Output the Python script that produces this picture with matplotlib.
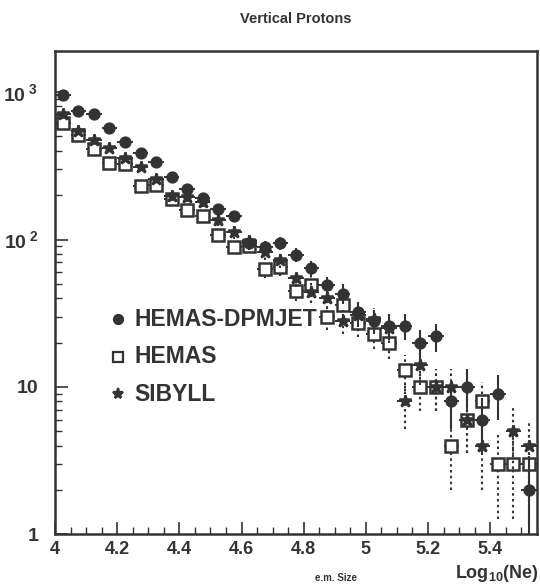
import numpy as np
import matplotlib
matplotlib.use("Agg")
import matplotlib.pyplot as plt

plt.rcParams['font.family'] = ['Liberation Sans', 'DejaVu Sans']
plt.rcParams['font.weight'] = 'bold'
plt.rcParams['mathtext.fontset'] = 'custom'
plt.rcParams['mathtext.bf'] = 'Liberation Sans:bold'
plt.rcParams['mathtext.rm'] = 'Liberation Sans:bold'

# bin centres of log10(Ne), bin width 0.05
log_ne = np.arange(4.025, 5.55, 0.05)

# event counts per bin (nan = empty bin)
hemas_dpmjet = [955, 750, 705, 568, 456, 388, 337, 264, 220, 191, 161, 145, 95, 89, 94, 79,
                64, 49, 43, 32, 28, 26, 26, 20, 22, 8, 10, 6, 9, np.nan, 2]
hemas = [620, 510, 411, 332, 325, 229, 236, 188, 158, 145, 108, 89, 90, 63, 65, 45,
         49, 30, 36, 27, 23, 20, 13, 10, 10, 4, 6, 8, 3, 3, 3]
sibyll = [709, 547, 470, 418, 358, 312, 258, 198, 193, 179, 136, 112, 97, 82, 73, 55,
          44, 40, 28, 31, 29, 25, 8, 14, 10, 10, 6, 4, np.nan, 5, 4]

labels = ['HEMAS-DPMJET', 'HEMAS', 'SIBYLL']

ink = '#333333'
half_bin = 0.025

fig = plt.figure(figsize=(5.4, 5.86), dpi=100)
ax = fig.add_axes([0.102, 0.088, 0.892, 0.825])
ax.set_yscale('log')


def draw(vals, marker, ms, face, yls, zorder):
    v = np.array(vals, dtype=float)
    err = np.sqrt(v)  # Poisson errors
    lo = np.minimum(err, v - 0.5)
    ax.errorbar(log_ne, v, xerr=half_bin, fmt='none', ecolor=ink, elinewidth=1.4,
                capsize=0, zorder=zorder)
    eb = ax.errorbar(log_ne, v, yerr=[lo, err], fmt='none', ecolor=ink, elinewidth=1.5,
                     capsize=0, zorder=zorder)
    eb[2][0].set_linestyle(yls)
    ax.plot(log_ne, v, linestyle='none', marker=marker, ms=ms, mfc=face, mec=ink,
            mew=1.8, zorder=zorder + 1)


draw(hemas, 's', 8, 'white', (0, (1.2, 1.6)), 3)
draw(sibyll, '*', 9, ink, (0, (1.2, 1.6)), 4)
draw(hemas_dpmjet, 'o', 7, ink, '-', 5)

ax.set_xlim(4.0, 5.55)
ax.set_ylim(1, 1900)
ax.set_xticks([4, 4.2, 4.4, 4.6, 4.8, 5, 5.2, 5.4])
ax.set_xticklabels(['4', '4.2', '4.4', '4.6', '4.8', '5', '5.2', '5.4'])
ax.set_xticks(np.arange(4.05, 5.55, 0.05), minor=True)
ax.set_yticks([1, 10, 100, 1000])
ax.set_yticklabels(['1', '10', r'$\mathbf{10^{\;2}}$', r'$\mathbf{10^{\;3}}$'])
ax.tick_params(which='both', direction='in', colors=ink, labelsize=13, pad=5)
ax.tick_params(axis='y', labelsize=14, pad=12)
ax.tick_params(which='major', length=9, width=1.2)
ax.tick_params(which='minor', length=5, width=1.0)
for s in ax.spines.values():
    s.set_linewidth(1.8)
    s.set_color(ink)

# legend
legend_y = [0.445, 0.368, 0.290]
legend_m = [('o', 6.5, ink), ('s', 7, 'white'), ('*', 8, ink)]
for yy, lab, (m, ms, fc) in zip(legend_y, labels, legend_m):
    ax.plot([0.13], [yy], transform=ax.transAxes, marker=m, ms=ms, mfc=fc, mec=ink,
            mew=1.6, linestyle='none', clip_on=False)
    ax.text(0.165, yy, lab, transform=ax.transAxes, fontsize=16.5, fontweight='bold',
            color=ink, va='center', ha='left')

fig.text(0.548, 0.968, 'Vertical Protons', ha='center', va='center', fontsize=10.5,
         fontweight='bold', color=ink)
fig.text(0.622, 0.014, 'e.m. Size', ha='center', va='center', fontsize=7,
         fontweight='bold', color=ink)
fig.text(0.998, 0.022, r'Log$_{\mathbf{10}}$(Ne)', ha='right', va='center', fontsize=13,
         fontweight='bold', color=ink)

fig.savefig('out.png', dpi=100)
